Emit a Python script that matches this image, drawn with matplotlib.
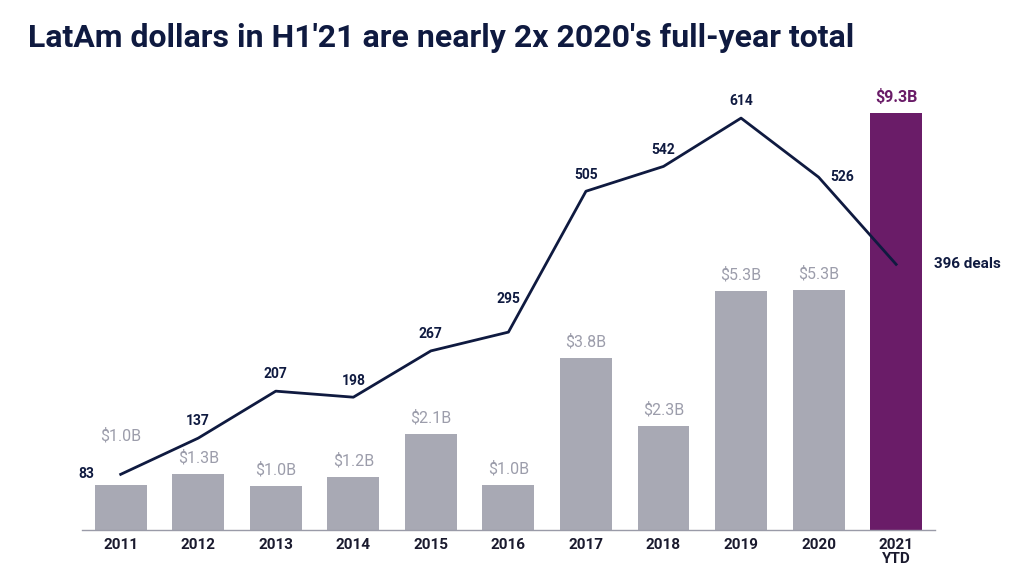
import matplotlib.pyplot as plt
import numpy as np

plt.rcParams['font.family'] = ['Roboto', 'DejaVu Sans']

years = ["2011", "2012", "2013", "2014", "2015", "2016", "2017", "2018", "2019", "2020", "2021\nYTD"]
dollars_b = [1.0, 1.3, 1.0, 1.2, 2.1, 1.0, 3.8, 2.3, 5.3, 5.3, 9.3]
bar_heights = [1.0, 1.25, 0.98, 1.18, 2.14, 1.0, 3.84, 2.32, 5.33, 5.36, 9.3]
deals = [83, 137, 207, 198, 267, 295, 505, 542, 614, 526, 396]

NAVY = "#0f1a40"
GRAY = "#a8a9b4"
GRAY_TXT = "#9c9dab"
PURPLE = "#6a1c68"

fig = plt.figure(figsize=(10.24, 5.78), dpi=100)
ax = fig.add_axes([0.08, 0.083, 0.833, 0.744])
x = np.arange(len(years))
colors = [GRAY] * (len(years) - 1) + [PURPLE]
ax.bar(x, bar_heights, width=0.67, color=colors, zorder=2)
ax.set_xlim(-0.5, 10.5)
ax.set_ylim(0, 9.6)
for s in ["top", "right", "left"]:
    ax.spines[s].set_visible(False)
ax.spines["bottom"].set_color("#9a9ba8")
ax.spines["bottom"].set_linewidth(1.0)
ax.set_yticks([])
ax.set_xticks(x)
ax.set_xticklabels(years, fontsize=11, fontweight="bold", color="#1a1a2e", linespacing=1.0)
ax.tick_params(axis="x", length=0, pad=6)

for i, (h, v) in enumerate(zip(bar_heights, dollars_b)):
    off = 6
    if i == 0:
        off = 30
    c = PURPLE if i == len(years) - 1 else GRAY_TXT
    w = "bold" if i == len(years) - 1 else "normal"
    fs = 11.5 if i == len(years) - 1 else 11.5
    ax.annotate(f"${v:.1f}B", (i, h), xytext=(0, off), textcoords="offset points",
                ha="center", va="bottom", fontsize=fs, color=c, fontweight=w)

ax2 = ax.twinx()
ax2.set_ylim(0, 641)
ax2.plot(x, deals, color=NAVY, lw=2.0, zorder=3)
ax2.axis("off")

for i, d in enumerate(deals):
    if i == 0:
        ax2.annotate(str(d), (i, d), xytext=(-25, 0), textcoords="offset points",
                     ha="center", va="center", fontsize=10, fontweight="bold", color=NAVY)
    elif i == 9:
        ax2.annotate(str(d), (i, d), xytext=(17, 0), textcoords="offset points",
                     ha="center", va="center", fontsize=10, fontweight="bold", color=NAVY)
    elif i == 10:
        ax2.annotate(f"{d} deals", (i, d), xytext=(27, 0), textcoords="offset points",
                     ha="left", va="center", fontsize=11, fontweight="bold", color=NAVY)
    else:
        off = 24 if i == 5 else 12
        ax2.annotate(str(d), (i, d), xytext=(0, off), textcoords="offset points",
                     ha="center", va="center", fontsize=10, fontweight="bold", color=NAVY)

fig.text(0.027, 0.935, "LatAm dollars in H1'21 are nearly 2x 2020's full-year total",
         fontsize=23, fontweight="bold", color=NAVY, ha="left", va="center")

fig.savefig("out.png", dpi=100, facecolor="white")
